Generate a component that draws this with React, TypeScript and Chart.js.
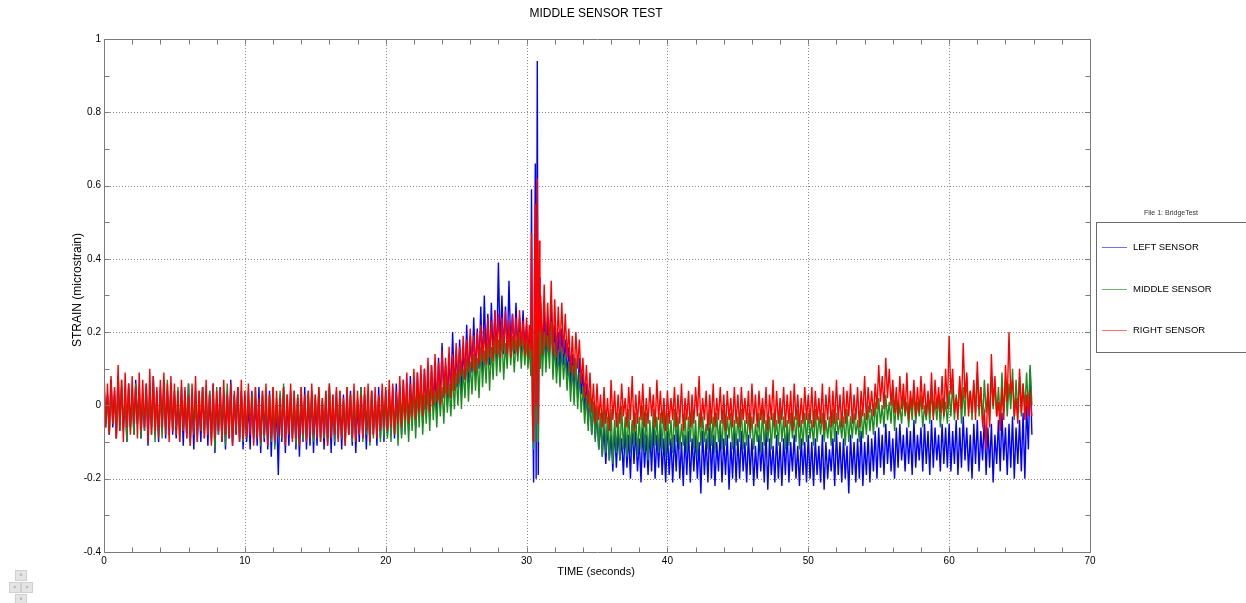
import React, { useEffect, useRef } from "react";
import { Chart, registerables } from "chart.js";

Chart.register(...registerables);

// ---- data, strain in hundredths of a microstrain ----
// Each sensor trace is sampled in 0.25 s bins: high value at the bin start, low value half a bin later.
const UNIT = 0.01;
const BIN_SECONDS = 0.25;

const leftHi = [
  6, 3, 7, 4, 8, 5, 3, 6, 4, 7, 5, 2, 6, 4, 8, 3, 5, 7, 4, 6,
  4, 2, 5, 3, 6, 2, 4, 1, 5, 3, 4, 6, 2, 5, 3, 4, 7, 3, 5, 4,
  3, 1, 4, 2, 5, 3, 1, 4, 2, 0, 3, 5, 2, 4, 1, 3, 2, 5, 3, 4,
  2, 4, 1, 3, 5, 2, 4, 1, 3, 2, 4, 3, 1, 5, 3, 2, 4, 3, 5, 3,
  4, 3, 5, 6, 4, 7, 5, 8, 6, 9, 7, 10, 8, 11, 9, 13, 17, 11, 14, 20,
  15, 18, 16, 22, 19, 24, 21, 27, 30, 25, 28, 26, 39, 30, 27, 34, 25, 28, 24, 26,
  25, 26, 24, 30, 28, 26, 24, 29, 22, 20, 21, 18, 16, 14, 12, 13, 9, 6, 3, 1,
  -2, -4, -6, -5, -8, -6, -7, -9, -6, -8, -5, -7, -9, -6, -8, -7, -5, -8, -6, -9,
  -7, -9, -8, -6, -10, -8, -7, -9, -8, -10, -7, -9, -6, -8, -10, -7, -9, -8, -10, -7,
  -9, -7, -10, -8, -9, -11, -8, -10, -7, -9, -11, -8, -10, -9, -7, -10, -8, -11, -9, -10,
  -8, -10, -9, -11, -8, -10, -12, -9, -7, -10, -9, -11, -8, -10, -9, -7, -10, -8, -9, -7,
  -6, -8, -5, -7, -9, -6, -5, -8, -6, -7, -4, -8, -6, -5, -7, -4, -6, -8, -5, -6,
  -5, -7, -4, -6, -3, -6, -8, -5, -4, -7, -3, -6, -5, -8, -4, -2, -6, -5, -3, -6,
  -4, -2, 0, 10,
];
const leftLo = [
  -5, -8, -6, -9, -4, -7, -10, -6, -8, -5, -9, -7, -11, -6, -8, -10, -7, -9, -6, -8,
  -9, -7, -11, -8, -10, -12, -8, -10, -7, -11, -9, -13, -8, -10, -12, -9, -11, -8, -10, -12,
  -10, -12, -9, -11, -13, -10, -12, -14, -11, -19, -10, -13, -11, -9, -12, -14, -10, -12, -11, -13,
  -11, -9, -12, -10, -13, -11, -9, -12, -10, -8, -11, -13, -10, -9, -12, -10, -8, -11, -9, -10,
  -8, -7, -9, -6, -8, -5, -7, -4, -6, -3, -5, -2, -4, 0, -2, 1, 3, 0, 2, 4,
  5, 3, 7, 6, 9, 8, 10, 9, 12, 11, 13, 12, 15, 14, 13, 16, 14, 15, 13, 15,
  12, 14, 13, 15, 13, 11, 14, 12, 10, 9, 11, 8, 5, 4, 2, 3, -2, -5, -8, -9,
  -12, -14, -16, -15, -18, -17, -15, -19, -17, -20, -16, -18, -21, -17, -19, -18, -20, -17, -19, -21,
  -19, -21, -18, -20, -22, -19, -21, -18, -20, -24, -19, -21, -20, -22, -18, -21, -19, -23, -20, -21,
  -20, -18, -21, -19, -22, -20, -18, -21, -23, -19, -21, -20, -22, -19, -21, -18, -20, -22, -19, -21,
  -20, -22, -19, -21, -23, -20, -18, -22, -19, -21, -20, -24, -19, -21, -20, -22, -19, -21, -18, -20,
  -17, -19, -16, -18, -20, -17, -15, -18, -16, -19, -17, -15, -18, -16, -19, -17, -15, -18, -16, -17,
  -18, -16, -19, -17, -15, -18, -20, -16, -18, -15, -19, -17, -21, -16, -18, -15, -19, -17, -20, -16,
  -18, -20, -12, -8,
];

const middleHi = [
  5, 2, 6, 3, 4, 7, 3, 5, 2, 6, 4, 3, 5, 2, 6, 4, 3, 5, 7, 4,
  3, 5, 2, 4, 6, 3, 1, 4, 5, 2, 4, 3, 5, 2, 4, 6, 3, 2, 5, 3,
  2, 4, 3, 5, 1, 4, 2, 3, 5, 2, 4, 6, 3, 1, 4, 3, 5, 2, 4, 3,
  3, 5, 2, 4, 6, 3, 2, 4, 1, 5, 3, 4, 2, 5, 3, 1, 4, 3, 2, 4,
  2, 4, 3, 1, 5, 3, 4, 2, 5, 4, 6, 3, 5, 7, 4, 6, 5, 8, 6, 9,
  9, 11, 10, 13, 12, 14, 13, 16, 15, 17, 16, 19, 18, 20, 17, 21, 19, 18, 20, 19,
  19, 20, 18, 21, 22, 20, 19, 23, 17, 15, 16, 14, 12, 11, 13, 9, 5, 3, 4, 1,
  0, -2, 1, -3, -1, -4, -2, 0, -3, -1, -4, -2, -3, 0, -2, -4, -1, -3, -2, -1,
  -2, -4, -1, -3, -5, -2, -3, -1, -4, -2, -3, -5, -1, -3, -2, -4, -1, -3, -2, -4,
  -3, -1, -4, -2, -3, -5, -2, -1, -4, -3, -2, -4, -1, -3, -4, -2, -3, -1, -4, -2,
  -2, -4, -1, -3, -2, -4, -3, -1, -2, -4, -3, -1, -3, -2, -4, -1, -2, 0, -1, 1,
  2, 0, 3, 1, 4, 2, 0, 3, 1, 2, 4, 1, 3, 0, 2, 4, 1, 3, 2, 1,
  4, 6, 3, 7, 5, 8, 4, 6, 9, 5, 7, 4, 8, 6, 5, 9, 7, 6, 10, 7,
  8, 6, 9, 11,
];
const middleLo = [
  -6, -8, -5, -9, -7, -6, -10, -7, -8, -5, -9, -7, -6, -8, -10, -7, -9, -6, -8, -7,
  -8, -10, -7, -9, -11, -8, -10, -7, -9, -8, -10, -12, -8, -9, -11, -8, -10, -7, -9, -10,
  -9, -7, -10, -8, -11, -9, -8, -10, -12, -9, -8, -10, -7, -9, -11, -8, -10, -9, -7, -10,
  -8, -10, -9, -11, -8, -10, -7, -9, -11, -8, -10, -9, -7, -10, -8, -11, -9, -8, -10, -9,
  -9, -10, -8, -11, -9, -8, -10, -7, -9, -6, -8, -5, -7, -4, -6, -3, -5, -2, -3, -1,
  0, -1, 2, 1, 3, 4, 2, 5, 6, 4, 7, 8, 9, 7, 10, 11, 9, 12, 10, 11,
  10, 11, 9, 10, 8, 9, 10, 7, 6, 5, 7, 4, 1, 0, -1, -2, -5, -7, -8, -10,
  -12, -14, -13, -15, -16, -13, -15, -12, -14, -13, -11, -14, -12, -13, -15, -12, -11, -13, -12, -14,
  -11, -13, -10, -12, -11, -13, -10, -12, -14, -11, -10, -12, -11, -13, -10, -12, -11, -9, -12, -11,
  -10, -12, -11, -9, -12, -10, -13, -11, -10, -12, -9, -11, -10, -12, -11, -9, -10, -12, -11, -10,
  -9, -11, -10, -8, -10, -9, -11, -10, -8, -9, -11, -10, -9, -8, -10, -9, -8, -7, -8, -6,
  -5, -6, -4, -5, -7, -4, -5, -3, -6, -4, -5, -3, -6, -4, -5, -3, -4, -6, -3, -5,
  -3, -4, -2, -5, -3, -1, -4, -2, -3, -5, -2, -4, -1, -3, -4, -2, -3, -1, -4, -2,
  -3, -1, -2, 0,
];

const rightHi = [
  10, 6, 8, 5, 11, 7, 9, 6, 8, 5, 9, 7, 6, 10, 8, 5, 7, 9, 6, 8,
  6, 4, 7, 5, 3, 6, 8, 4, 5, 7, 3, 6, 4, 5, 7, 3, 6, 4, 5, 7,
  4, 6, 3, 5, 2, 4, 6, 3, 5, 4, 2, 5, 3, 6, 4, 2, 5, 3, 4, 6,
  3, 5, 2, 4, 6, 3, 5, 4, 2, 5, 3, 6, 4, 3, 5, 6, 4, 5, 3, 6,
  5, 7, 6, 4, 8, 7, 9, 6, 10, 9, 11, 10, 13, 11, 14, 12, 15, 13, 16, 14,
  17, 16, 19, 18, 21, 19, 20, 22, 21, 24, 23, 26, 25, 24, 26, 23, 25, 24, 26, 23,
  24, 22, 25, 23, 30, 33, 28, 34, 29, 27, 28, 25, 21, 19, 20, 18, 13, 11, 9, 6,
  6, 3, 5, 2, 7, 4, 3, 6, 2, 5, 8, 3, 4, 6, 2, 5, 3, 7, 4, 2,
  4, 2, 5, 3, 6, 2, 4, 3, 5, 8, 2, 4, 3, 6, 2, 5, 3, 4, 2, 5,
  3, 5, 2, 4, 6, 3, 4, 2, 5, 3, 7, 4, 2, 5, 3, 4, 6, 3, 2, 5,
  3, 5, 4, 2, 6, 3, 5, 4, 7, 3, 5, 4, 6, 3, 5, 4, 8, 5, 4, 6,
  11, 8, 13, 10, 7, 5, 8, 6, 9, 4, 7, 5, 8, 6, 4, 9, 7, 5, 8, 10,
  19, 10, 2, 8, 17, 9, 4, 7, 12, 5, -2, 6, 14, 8, 1, 5, 11, 20, 7, 2,
  10, 6, 3, 4,
];
const rightLo = [
  -6, -8, -5, -9, -7, -10, -6, -8, -5, -9, -7, -6, -10, -8, -7, -9, -6, -8, -10, -7,
  -8, -10, -7, -9, -11, -8, -10, -7, -9, -8, -11, -9, -7, -10, -8, -9, -11, -8, -10, -9,
  -9, -8, -11, -9, -10, -8, -11, -9, -10, -8, -9, -11, -8, -10, -9, -11, -8, -10, -9, -8,
  -9, -10, -8, -11, -9, -8, -10, -9, -11, -8, -9, -10, -8, -9, -7, -10, -8, -9, -7, -6,
  -7, -6, -8, -5, -6, -4, -5, -3, -4, -2, -3, -1, -2, 0, 1, 0, 2, 3, 2, 4,
  6, 8, 7, 9, 10, 9, 11, 12, 11, 13, 12, 14, 13, 15, 14, 13, 15, 14, 16, 14,
  12, 14, 13, 15, 14, 16, 15, 14, 13, 15, 14, 13, 9, 8, 10, 6, 2, 0, -2, -5,
  -4, -6, -5, -7, -4, -6, -5, -3, -6, -4, -7, -5, -4, -6, -5, -3, -6, -4, -5, -7,
  -5, -4, -6, -5, -7, -4, -6, -5, -3, -6, -4, -7, -5, -6, -4, -5, -7, -4, -6, -5,
  -6, -4, -5, -7, -5, -6, -4, -5, -7, -4, -6, -5, -4, -6, -5, -7, -4, -6, -5, -4,
  -5, -6, -4, -5, -7, -4, -6, -5, -4, -6, -5, -3, -5, -4, -6, -3, -4, -2, -3, -1,
  1, -1, 2, 0, -2, -3, -1, -2, -4, -1, -3, -2, -1, -3, -2, -4, -1, -2, -3, -1,
  3, -2, -4, -1, 2, -3, -2, -4, -1, -5, -12, -6, 0, -3, -7, -4, 1, 3, -3, -5,
  -2, -4, -3, -3,
];

// Fine-grained samples around the impact event (30 s – 31 s)
const eventStart = 30;
const eventEnd = 31;
const eventTimes = [30.0, 30.1, 30.2, 30.3, 30.35, 30.42, 30.5, 30.56, 30.62, 30.68, 30.76, 30.83, 30.9, 30.95];
const leftEvent = [22, 12, 20, 10, 59, 5, -21, 30, 66, -20, 94, -19, 35, 10];
const middleEvent = [18, 10, 17, 8, 30, -5, -12, 20, 35, -10, 45, -10, 30, 10];
const rightEvent = [24, 13, 22, 15, 47, -2, -10, 35, 55, 0, 62, -5, 45, 20];

const seriesNames = ["LEFT SENSOR", "MIDDLE SENSOR", "RIGHT SENSOR"];
const seriesColors = ["#0000ff", "#1c8a1c", "#ff0000"];
const legendLineColors = ["#7070ff", "#70b070", "#ff7070"];

const xTickValues = [0, 10, 20, 30, 40, 50, 60, 70];
const xTickLabels = ["0", "10", "20", "30", "40", "50", "60", "70"];
const yTickValues = [-0.4, -0.2, 0, 0.2, 0.4, 0.6, 0.8, 1];
const yTickLabels = ["-0.4", "-0.2", "0", "0.2", "0.4", "0.6", "0.8", "1"];
const xMinorStep = 2;
const yMinorStep = 0.1;

const FONT = "'Liberation Sans', Arial, Helvetica, sans-serif";

function buildSeries(hi: number[], lo: number[], ev: number[]) {
  const pts: { x: number; y: number }[] = [];
  let eventDone = false;
  for (let k = 0; k < hi.length; k++) {
    const t = k * BIN_SECONDS;
    if (t >= eventStart && t < eventEnd) {
      if (!eventDone) {
        eventTimes.forEach((et, i) => pts.push({ x: et, y: ev[i] * UNIT }));
        eventDone = true;
      }
      continue;
    }
    pts.push({ x: t, y: hi[k] * UNIT });
    pts.push({ x: t + BIN_SECONDS / 2, y: lo[k] * UNIT });
  }
  return pts;
}

const framePlugin = {
  id: "matlabFrame",
  beforeDatasetsDraw(chart: any) {
    const { ctx, chartArea, scales } = chart;
    const { left, right, top, bottom } = chartArea;
    ctx.save();
    ctx.strokeStyle = "#8a8a8a";
    ctx.lineWidth = 1;
    ctx.setLineDash([1, 2]);
    xTickValues.forEach((v) => {
      const px = Math.round(scales.x.getPixelForValue(v)) + 0.5;
      if (px <= left + 1 || px >= right - 1) return;
      ctx.beginPath();
      ctx.moveTo(px, top);
      ctx.lineTo(px, bottom);
      ctx.stroke();
    });
    yTickValues.forEach((v) => {
      const py = Math.round(scales.y.getPixelForValue(v)) + 0.5;
      if (py <= top + 1 || py >= bottom - 1) return;
      ctx.beginPath();
      ctx.moveTo(left, py);
      ctx.lineTo(right, py);
      ctx.stroke();
    });
    ctx.restore();
  },
  afterDraw(chart: any) {
    const { ctx, chartArea, scales } = chart;
    const { left, right, top, bottom } = chartArea;
    ctx.save();
    ctx.strokeStyle = "#7a7a7a";
    ctx.lineWidth = 1;
    ctx.setLineDash([]);
    const L = Math.round(left) + 0.5;
    const R = Math.round(right) + 0.5;
    const T = Math.round(top) + 0.5;
    const B = Math.round(bottom) + 0.5;
    ctx.beginPath();
    ctx.rect(L, T, R - L, B - T);
    ctx.stroke();
    const tl = 5;
    ctx.beginPath();
    const nX = Math.round((scales.x.max - scales.x.min) / xMinorStep);
    for (let i = 0; i <= nX; i++) {
      const v = scales.x.min + i * xMinorStep;
      const px = Math.round(scales.x.getPixelForValue(v)) + 0.5;
      ctx.moveTo(px, B);
      ctx.lineTo(px, B - tl);
      ctx.moveTo(px, T);
      ctx.lineTo(px, T + tl);
    }
    const nY = Math.round((scales.y.max - scales.y.min) / yMinorStep);
    for (let i = 0; i <= nY; i++) {
      const v = scales.y.min + i * yMinorStep;
      const py = Math.round(scales.y.getPixelForValue(v)) + 0.5;
      ctx.moveTo(L, py);
      ctx.lineTo(L + tl, py);
      ctx.moveTo(R, py);
      ctx.lineTo(R - tl, py);
    }
    ctx.stroke();
    ctx.restore();
  },
};

export default function App() {
  const canvasRef = useRef<HTMLCanvasElement | null>(null);

  useEffect(() => {
    document.body.style.margin = "0";
    const canvas = canvasRef.current;
    if (!canvas) return;
    const his = [leftHi, middleHi, rightHi];
    const los = [leftLo, middleLo, rightLo];
    const evs = [leftEvent, middleEvent, rightEvent];
    const chart = new Chart(canvas, {
      type: "line",
      data: {
        datasets: seriesNames.map((name, i) => ({
          label: name,
          data: buildSeries(his[i], los[i], evs[i]),
          borderColor: seriesColors[i],
          backgroundColor: seriesColors[i],
          borderWidth: 1.4,
          pointRadius: 0,
          tension: 0,
          fill: false,
          order: 2 - i,
        })),
      },
      options: {
        animation: false,
        responsive: false,
        devicePixelRatio: 1,
        parsing: false,
        normalized: true,
        layout: { padding: { top: 39, right: 156, left: 0, bottom: 0 } },
        plugins: {
          legend: { display: false },
          title: { display: false },
          tooltip: { enabled: false },
        },
        scales: {
          x: {
            type: "linear",
            min: 0,
            max: 70,
            grid: { display: false, drawTicks: false, tickLength: 0 },
            border: { display: false },
            afterBuildTicks: (s: any) => {
              s.ticks = xTickValues.map((v) => ({ value: v }));
            },
            afterFit: (s: any) => {
              s.height = 51;
            },
            ticks: {
              padding: 3,
              color: "#000",
              font: { family: FONT, size: 10 },
              maxRotation: 0,
              autoSkip: false,
              callback: (v: any) => xTickLabels[xTickValues.indexOf(Number(v))] ?? "",
            },
          },
          y: {
            type: "linear",
            min: -0.4,
            max: 1,
            grid: { display: false, drawTicks: false, tickLength: 0 },
            border: { display: false },
            afterBuildTicks: (s: any) => {
              s.ticks = yTickValues.map((v) => ({ value: v }));
            },
            afterFit: (s: any) => {
              s.width = 104;
            },
            ticks: {
              padding: 3,
              color: "#000",
              font: { family: FONT, size: 10 },
              autoSkip: false,
              callback: (v: any) => {
                const idx = yTickValues.findIndex((t) => Math.abs(t - Number(v)) < 1e-9);
                return idx >= 0 ? yTickLabels[idx] : "";
              },
            },
          },
        },
      },
      plugins: [framePlugin],
    } as any);
    return () => chart.destroy();
  }, []);

  const navBtn = (left: number, top: number, glyph: string) => (
    <div
      style={{
        position: "absolute",
        left,
        top,
        width: 10,
        height: 9,
        background: "#e4e4e4",
        border: "1px solid #d0d0d0",
        fontSize: 5,
        lineHeight: "9px",
        textAlign: "center",
        color: "#777",
        fontFamily: FONT,
      }}
    >
      {glyph}
    </div>
  );

  return (
    <div style={{ position: "absolute", left: 0, top: 0, width: 1246, height: 603, background: "#fff", overflow: "hidden" }}>
      <canvas ref={canvasRef} width={1246} height={603} style={{ position: "absolute", left: 0, top: 0 }} />
      <div
        style={{
          position: "absolute",
          left: 0,
          width: 1192,
          top: 6,
          textAlign: "center",
          fontFamily: FONT,
          fontSize: 12,
          color: "#000",
        }}
      >
        MIDDLE SENSOR TEST
      </div>
      <div
        style={{
          position: "absolute",
          left: 0,
          width: 1192,
          top: 565,
          textAlign: "center",
          fontFamily: FONT,
          fontSize: 11,
          color: "#000",
        }}
      >
        TIME (seconds)
      </div>
      <div
        style={{
          position: "absolute",
          left: 77,
          top: 290,
          transform: "translate(-50%, -50%) rotate(-90deg)",
          whiteSpace: "nowrap",
          fontFamily: FONT,
          fontSize: 12,
          color: "#000",
        }}
      >
        STRAIN (microstrain)
      </div>
      <div
        style={{
          position: "absolute",
          left: 1096,
          width: 150,
          top: 209,
          textAlign: "center",
          fontFamily: FONT,
          fontSize: 7,
          color: "#333",
        }}
      >
        File 1: BridgeTest
      </div>
      <div
        style={{
          position: "absolute",
          left: 1096,
          top: 222,
          width: 160,
          height: 131,
          border: "1px solid #6a6a6a",
          boxSizing: "border-box",
        }}
      />
      {seriesNames.map((name, i) => {
        const y = [247, 289, 330][i];
        return (
          <React.Fragment key={name}>
            <div
              style={{
                position: "absolute",
                left: 1102,
                top: y,
                width: 25,
                height: 1,
                background: legendLineColors[i],
              }}
            />
            <div
              style={{
                position: "absolute",
                left: 1133,
                top: y - 6,
                fontFamily: FONT,
                fontSize: 9.5,
                lineHeight: "12px",
                color: "#000",
                whiteSpace: "nowrap",
              }}
            >
              {name}
            </div>
          </React.Fragment>
        );
      })}
      {navBtn(15, 570, "˄")}
      {navBtn(9, 582, "˂")}
      {navBtn(21, 582, "˃")}
      {navBtn(15, 594, "˅")}
    </div>
  );
}
